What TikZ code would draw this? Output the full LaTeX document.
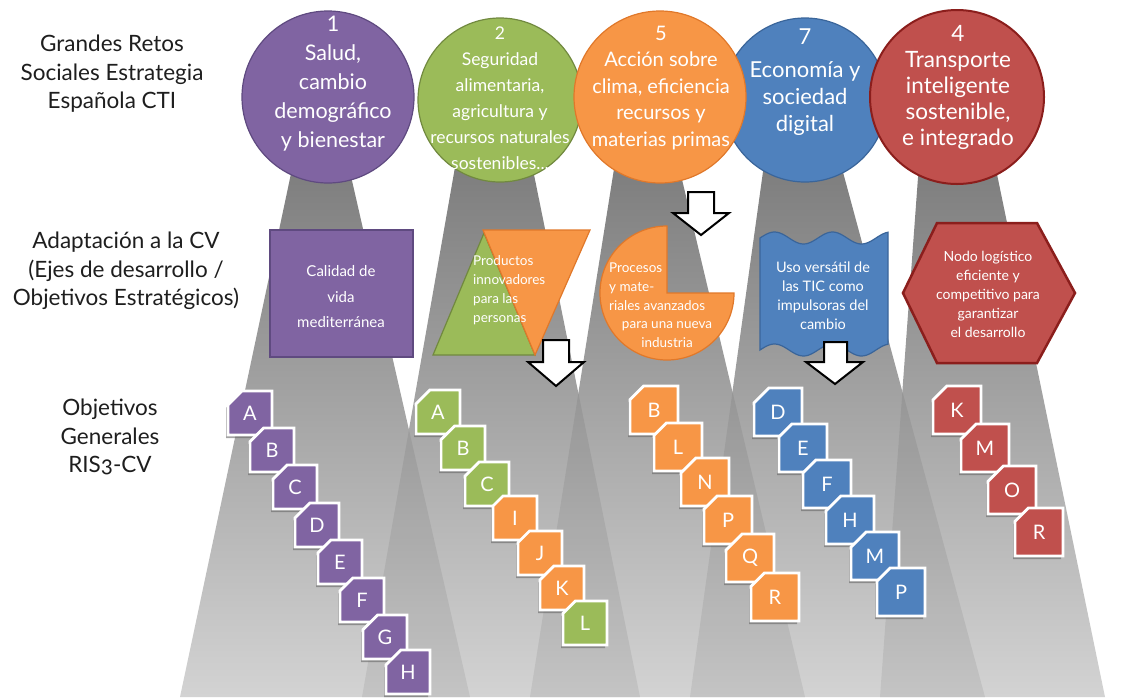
\documentclass[tikz,border=0pt]{standalone}
\usepackage{fontspec}
\setmainfont{Lato}
\usetikzlibrary{shapes.misc,shadows}
\definecolor{pur}{HTML}{8064A2}
\definecolor{purd}{HTML}{5F4A80}
\definecolor{grn}{HTML}{9BBB59}
\definecolor{grnd}{HTML}{71893F}
\definecolor{org}{HTML}{F79646}
\definecolor{orgd}{HTML}{E0782A}
\definecolor{blu}{HTML}{4F81BD}
\definecolor{blud}{HTML}{3A659A}
\definecolor{redf}{HTML}{C0504D}
\definecolor{redd}{HTML}{8B1E1C}
\definecolor{beamtop}{HTML}{7B7B7B}
\definecolor{beambot}{HTML}{D3D3D3}
\definecolor{lbltext}{HTML}{1E1E1E}
\begin{document}
\begin{tikzpicture}[x=1pt,y=-1pt,
  beam/.style={top color=beamtop,bottom color=beambot},
  ovl/.style={fill=black,fill opacity=.07},
  goal/.style={circle,inner sep=0pt,line width=1.2pt},
  ctxt/.style={text=white,align=center,inner sep=0pt},
  stxt/.style={text=white,inner sep=0pt,font=\fontsize{13.5}{19}\selectfont},
  lbl/.style={text=lbltext,align=center,inner sep=0pt,font=\fontsize{22.5}{28.5}\selectfont},
  barrow/.style={fill=white,draw=black,line width=2pt,line join=miter},
  obj/.style={chamfered rectangle,chamfered rectangle corners=north west,
    chamfered rectangle xsep=8pt,chamfered rectangle ysep=8pt,
    minimum width=44pt,minimum height=44pt,inner sep=0pt,draw=white,
    line width=2.8pt,text=white,font=\fontsize{20}{22}\selectfont,
    drop shadow={shadow xshift=-2pt,shadow yshift=-3pt,fill=black!60,opacity=.6}},
  objL/.style={obj,minimum width=48pt,minimum height=48pt}
]
\useasboundingbox (0,0) rectangle (1121,697);

% beams
\coordinate (b1a) at (296,150); \coordinate (b1b) at (345,150);
\coordinate (b1c) at (470,697); \coordinate (b1d) at (180,697);
\coordinate (b2a) at (458,150); \coordinate (b2b) at (529,150);
\coordinate (b2c) at (640,697); \coordinate (b2d) at (362,697);
\coordinate (b3a) at (617,150); \coordinate (b3b) at (675,150);
\coordinate (b3c) at (805,697); \coordinate (b3d) at (530,697);
\coordinate (b4a) at (766,150); \coordinate (b4b) at (837,150);
\coordinate (b4c) at (985,697); \coordinate (b4d) at (690,697);
\coordinate (b5a) at (920,150); \coordinate (b5b) at (992,150);
\coordinate (b5c) at (1105,697); \coordinate (b5d) at (880,697);
\foreach \i in {1,...,5}
  \shade[beam] (b\i a) -- (b\i b) -- (b\i c) -- (b\i d) -- cycle;
\fill[ovl] (intersection of b1b--b1c and b2a--b2d) -- (b1c) -- (b2d) -- cycle;
\fill[ovl] (intersection of b2b--b2c and b3a--b3d) -- (b2c) -- (b3d) -- cycle;
\fill[ovl] (intersection of b3b--b3c and b4a--b4d) -- (b3c) -- (b4d) -- cycle;
\fill[ovl] (intersection of b4b--b4c and b5a--b5d) -- (b4c) -- (b5d) -- cycle;

% circles
\node[goal,fill=grn,draw=grnd,minimum size=164pt] (c2) at (500,100) {};
\node[ctxt,font=\fontsize{17.5}{26}\selectfont] (t2) at (500,98)
  {2\\Seguridad\\alimentaria,\\agricultura y\\recursos naturales\\sostenibles...};
\node[goal,fill=pur,draw=purd,minimum size=172pt] (c1) at (328,97) {};
\node[ctxt,font=\fontsize{21.5}{29}\selectfont] (t1) at (333,84)
  {1\\Salud,\\cambio\\demográfico\\y bienestar};
\node[goal,fill=blu,draw=blud,minimum size=164pt] (c4) at (805,100) {};
\node[ctxt,font=\fontsize{22}{27}\selectfont] (t4) at (805,82)
  {7\\[6pt]Economía y\\sociedad\\digital};
\node[goal,fill=org,draw=orgd,minimum size=172pt] (c3) at (660,97) {};
\node[ctxt,font=\fontsize{20}{26.5}\selectfont] (t3) at (661,88)
  {5\\Acción sobre\\clima, eficiencia\\recursos y\\materias primas};
\node[goal,fill=redf,draw=redd,line width=2pt,minimum size=174pt] (c5) at (957,97) {};
\node[ctxt,font=\fontsize{22.5}{26}\selectfont] (t5) at (958,87)
  {4\\Transporte\\inteligente\\sostenible,\\e integrado};

% middle shapes
\node[fill=pur,draw=purd,line width=1.2pt,minimum width=143pt,minimum height=127pt,
  inner sep=0pt] (m1) at (341.5,293.5) {};
\node[text=white,align=center,inner sep=0pt,font=\fontsize{15}{25.5}\selectfont] (m1t) at (341,297)
  {Calidad de\\vida\\mediterránea};
\draw[fill=grn,draw=grnd,line width=1.2pt,line join=miter] (433,355) -- (484,233) -- (535,355) -- cycle;
\draw[fill=org,draw=orgd,line width=1.2pt,line join=miter] (483,230) -- (590,230) -- (535,355) -- cycle;
\node[stxt,align=left,anchor=west] (m2) at (473,290) {Productos\\innovadores\\para las\\personas};
\draw[fill=org,draw=orgd,line width=1.2pt] (667,293) -- (667,226) arc[start angle=270,end angle=0,radius=67] -- cycle;
\node[stxt,align=left,anchor=west] (m3a) at (609,287) {Procesos\\y mate-\\riales avanzados};
\node[stxt,align=center] (m3b) at (667,335) {para una nueva\\industria};
\draw[fill=blu,draw=blud,line width=1.2pt]
  plot[domain=0:128,samples=60] ({760+\x},{238-6*sin(6.2069*\x)})
  -- plot[domain=128:0,samples=60] ({760+\x},{350-6*sin(6.2069*\x)}) -- cycle;
\node[stxt,align=center,font=\fontsize{14.5}{19}\selectfont] (m4) at (823,296) {Uso versátil de\\las TIC como\\impulsoras del\\cambio};
\draw[fill=redf,draw=redd,line width=2.5pt,line join=miter]
  (903,293) -- (937,223) -- (1037,223) -- (1075,293) -- (1037,363) -- (937,363) -- cycle;
\node[stxt,align=center,font=\fontsize{14}{19}\selectfont] (m5) at (988,294) {Nodo logístico\\eficiente y\\competitivo para\\garantizar\\el desarrollo};

% arrows
\draw[barrow] (688,192) -- (714,192) -- (714,213) -- (729,213) -- (701,235) -- (673,213) -- (688,213) -- cycle;
\draw[barrow] (543,340) -- (569,340) -- (569,362) -- (584,362) -- (556,386) -- (528,362) -- (543,362) -- cycle;
\draw[barrow] (824,342) -- (847,342) -- (847,362) -- (863,362) -- (835,384) -- (806,362) -- (824,362) -- cycle;

% objectives
\foreach \l/\x/\y in {A/250/413,B/272/450,C/295/487,D/317/525,E/340/562,F/362/600,G/385/637,H/408/672}
  \node[obj,fill=pur] (p\l) at (\x,\y) {\l};
\foreach \l/\x/\y/\c in {A/438/412/grn,B/463/448/grn,C/487/484/grn,I/515/518/org,J/540/553/org,K/562/588/org,L/585/623/grn}
  \node[obj,fill=\c] (g\l) at (\x,\y) {\l};
\foreach \l/\x/\y in {B/654/410,L/678/447,N/705/482,P/728/520,Q/750/558,R/775/597}
  \node[objL,fill=org] (o\l) at (\x,\y) {\l};
\foreach \l/\x/\y in {D/778/412,E/803/448,F/827/484,H/850/520,M/875/556,P/901/592}
  \node[objL,fill=blu] (u\l) at (\x,\y) {\l};
\foreach \l/\x/\y in {K/957/410,M/985/448,O/1012/490,R/1039/532}
  \node[objL,fill=redf] (r\l) at (\x,\y) {\l};

% row labels
\node[lbl] (l1) at (112,74) {Grandes Retos\\Sociales Estrategia\\Española CTI};
\node[lbl] (l2) at (126,271) {Adaptación a la CV\\(Ejes de desarrollo /\\Objetivos Estratégicos)};
\node[lbl] (l3) at (110,437) {Objetivos\\Generales\\{\addfontfeatures{Numbers=OldStyle}RIS3-CV}};
\end{tikzpicture}
\end{document}
